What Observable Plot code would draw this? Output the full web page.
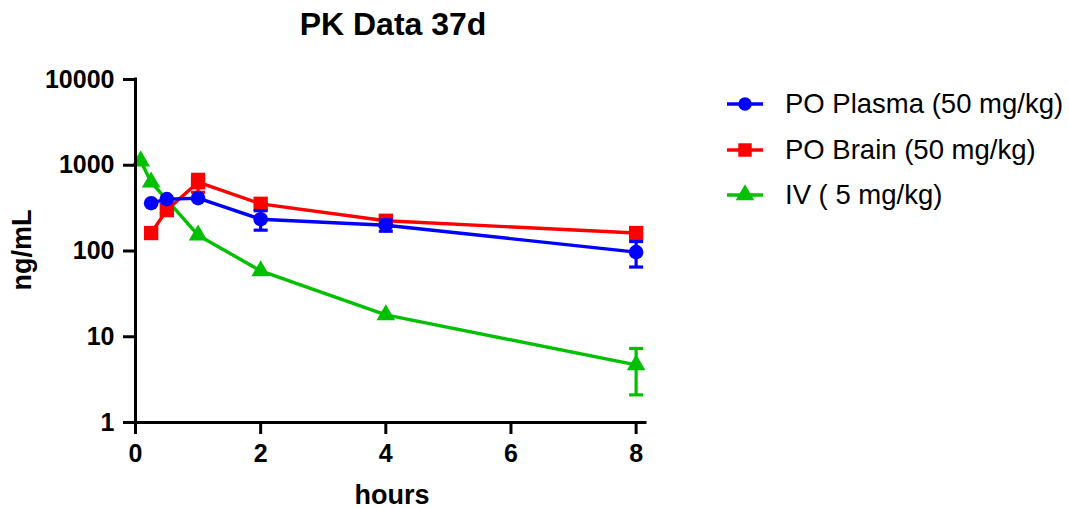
<!DOCTYPE html>
<html>
<head>
<meta charset="utf-8">
<script src="https://cdn.jsdelivr.net/npm/d3@7"></script>
<script src="https://cdn.jsdelivr.net/npm/@observablehq/plot@0.6"></script>
<style>
  html, body { margin: 0; padding: 0; background: #fff; }
  #chart { width: 1069px; height: 508px; }
</style>
</head>
<body>
<div id="chart"></div>
<script>
// ---- data ----
const seriesNames = ["PO Plasma (50 mg/kg)", "PO Brain (50 mg/kg)", "IV ( 5 mg/kg)"];
const seriesColors = ["#0000ff", "#ff0000", "#00c000"];
const seriesSymbols = ["circle", "square", "triangle"];

const plasmaTime = [0.25, 0.5, 1, 2, 4, 8];
const plasmaConc = [361, 403, 413, 235, 200, 97];
const plasmaSD   = [0, 0, 0, 60, 30, 32];

const brainTime = [0.25, 0.5, 1, 2, 4, 8];
const brainConc = [162, 300, 634, 355, 225, 162];
const brainSD   = [0, 0, 150, 0, 0, 0];

const ivTime = [0.083, 0.25, 1, 2, 4, 8];
const ivConc = [1120, 634, 153, 58.5, 18, 4.7];
const ivSD   = [0, 0, 0, 0, 0, 2.6];

const xTicks = [0, 2, 4, 6, 8];
const yTicks = [1, 10, 100, 1000, 10000];

const titleText = "PK Data 37d";
const xLabel = "hours";
const yLabel = "ng/mL";

// ---- build table ----
function rows(name, t, c, sd) {
  return t.map((x, i) => ({series: name, x, y: c[i], sd: sd[i]}));
}
const groups = [
  rows(seriesNames[0], plasmaTime, plasmaConc, plasmaSD),
  rows(seriesNames[1], brainTime, brainConc, brainSD),
  rows(seriesNames[2], ivTime, ivConc, ivSD)
];

const capSymbol = {
  draw(ctx, size) {
    const r = Math.sqrt(size / Math.PI);
    ctx.moveTo(-r, 0);
    ctx.lineTo(r, 0);
  }
};

const symbolR = {circle: 7.3, square: 8.1, triangle: 6.9};

// draw order: IV, Brain, Plasma (plasma on top)
const seriesMarks = [];
[2, 1, 0].forEach(k => {
  const data = groups[k];
  const color = seriesColors[k];
  const eb = data.filter(d => d.sd > 0);
  seriesMarks.push(
    Plot.line(data, {x: "x", y: "y", stroke: color, strokeWidth: 3.4}),
    Plot.ruleX(eb, {x: "x", y1: d => d.y - d.sd, y2: d => d.y + d.sd, stroke: color, strokeWidth: 3.2}),
    Plot.dot(eb, {x: "x", y: d => d.y - d.sd, symbol: capSymbol, r: 7, stroke: color, strokeWidth: 3.2, fill: "none"}),
    Plot.dot(eb, {x: "x", y: d => d.y + d.sd, symbol: capSymbol, r: 7, stroke: color, strokeWidth: 3.2, fill: "none"}),
    Plot.dot(data, {x: "x", y: "y", symbol: seriesSymbols[k], r: symbolR[seriesSymbols[k]], fill: color, stroke: "none"})
  );
});

const font = "'Liberation Sans', Arial, Helvetica, sans-serif";

const svg = Plot.plot({
  width: 1069,
  height: 508,
  marginLeft: 135,
  marginRight: 424,
  marginTop: 79,
  marginBottom: 86,
  style: {fontFamily: font, background: "#fff", overflow: "visible"},
  x: {domain: [0, 8.15]},
  y: {type: "log", domain: [1, 10000]},
  marks: [
    ...seriesMarks,
    Plot.ruleX([0], {stroke: "#000", strokeWidth: 3, strokeLinecap: "square"}),
    Plot.ruleY([1], {stroke: "#000", strokeWidth: 3, strokeLinecap: "square"}),
    Plot.axisX({ticks: xTicks, tickFormat: d => String(d), tickSize: 12, tickPadding: 10,
      stroke: "#000", strokeWidth: 3, fill: "#000", fontSize: 25, fontWeight: "bold", label: null}),
    Plot.axisY({ticks: yTicks, tickFormat: d => String(d), tickSize: 12, tickPadding: 9,
      stroke: "#000", strokeWidth: 3, fill: "#000", fontSize: 25, fontWeight: "bold", label: null})
  ]
});

const s = d3.select(svg);
function addText(x, y, txt, size, weight, anchor, transform) {
  const t = s.append("text")
    .style("font-family", font).style("font-size", size + "px").style("font-weight", weight)
    .style("text-anchor", anchor).attr("fill", "#000").text(txt);
  if (transform) t.attr("transform", transform); else t.attr("x", x).attr("y", y);
  return t;
}
// title
addText(393, 35, titleText, 32, "bold", "middle");
// x label
addText(392, 504, xLabel, 27, "bold", "middle");
// y label
addText(0, 0, yLabel, 27, "bold", "middle", "translate(31,250) rotate(-90)");

// legend
const legendY = [104, 150, 195];
const legendR = {circle: 6.7, square: 7.6, triangle: 6.9};
const symMap = {circle: d3.symbolCircle, square: d3.symbolSquare, triangle: d3.symbolTriangle};
seriesNames.forEach((name, i) => {
  const g = s.append("g").attr("transform", `translate(0,${legendY[i]})`);
  g.append("line").attr("x1", 727).attr("x2", 763).attr("y1", 0).attr("y2", 0)
    .attr("stroke", seriesColors[i]).attr("stroke-width", 3.4);
  const r = legendR[seriesSymbols[i]];
  g.append("path").attr("transform", "translate(745,0)")
    .attr("d", d3.symbol(symMap[seriesSymbols[i]], r * r * Math.PI)())
    .attr("fill", seriesColors[i]);
  g.append("text").attr("x", 785).attr("y", 9)
    .style("font-family", font).style("font-size", "27.5px").style("font-weight", "normal")
    .style("text-anchor", "start").attr("fill", "#000")
    .text(name);
});

document.getElementById("chart").appendChild(svg);
</script>
</body>
</html>
